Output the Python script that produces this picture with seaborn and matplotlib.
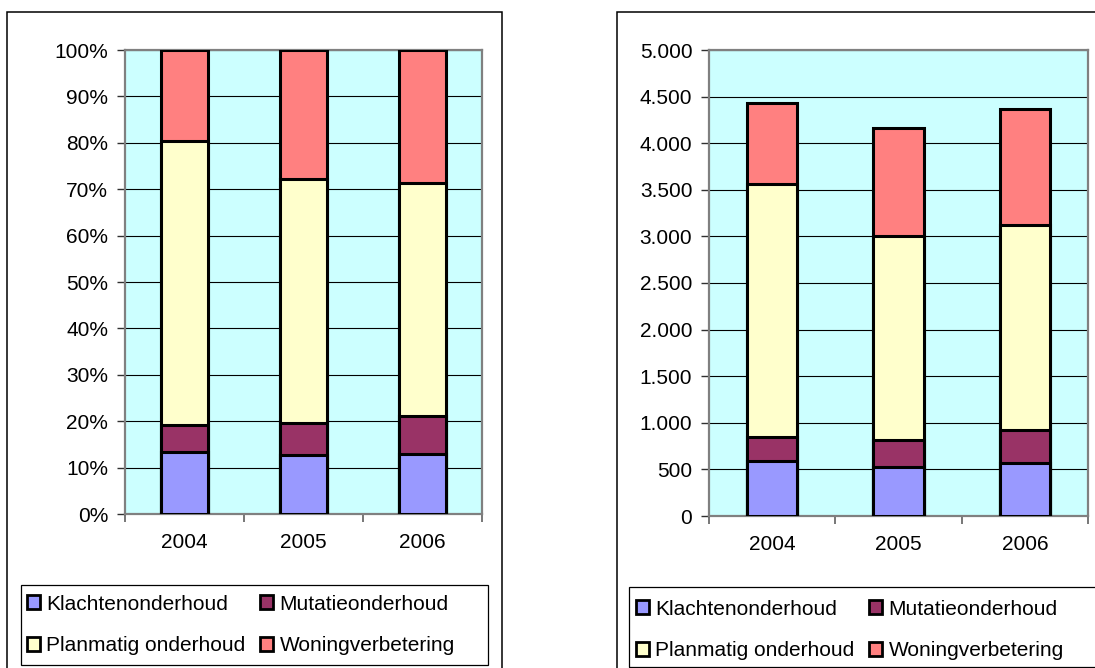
import matplotlib
matplotlib.use("Agg")
import matplotlib.pyplot as plt
from matplotlib.patches import Patch, Rectangle
from matplotlib.ticker import FuncFormatter, FixedLocator, MultipleLocator
import numpy as np
import pandas as pd
import seaborn as sns

plt.rcParams["font.family"] = ["Liberation Sans", "DejaVu Sans"]

# Maintenance expenditure per year, by category
years = ["2004", "2005", "2006"]
klachtenonderhoud = [587, 529, 569]
mutatieonderhoud = [264, 290, 357]
planmatig_onderhoud = [2708, 2185, 2193]
woningverbetering = [869, 1159, 1251]

series_names = ["Klachtenonderhoud", "Mutatieonderhoud",
                "Planmatig onderhoud", "Woningverbetering"]
series_values = [klachtenonderhoud, mutatieonderhoud,
                 planmatig_onderhoud, woningverbetering]
series_colors = ["#9999FF", "#993366", "#FFFFCC", "#FF8080"]

values = np.array(series_values, dtype=float)
cumulative = np.cumsum(values, axis=0)
totals = cumulative[-1]
cumulative_pct = cumulative / totals * 100

W, H = 1095, 668
DPI = 100
FS = 15
fig = plt.figure(figsize=(W / DPI, H / DPI), dpi=DPI)
fig.patch.set_facecolor("white")


def fig_rect(x0, y0, x1, y1):
    """Pixel box (top-left origin) to figure fraction [l, b, w, h]."""
    return [x0 / W, 1 - y1 / H, (x1 - x0) / W, (y1 - y0) / H]


def draw_stacked(ax, cum):
    # Draw tallest stacks first so each lower segment overlays the one above
    for i in range(len(series_names) - 1, -1, -1):
        df = pd.DataFrame({"jaar": years, "waarde": cum[i]})
        sns.barplot(data=df, x="jaar", y="waarde", color=series_colors[i],
                    saturation=1, width=0.4, edgecolor="black",
                    linewidth=2.2, ax=ax, zorder=3)
    ax.set_facecolor("#CCFFFF")
    ax.set_axisbelow(True)
    ax.grid(axis="y", color="black", linewidth=0.8, zorder=0)
    ax.grid(axis="x", visible=False)
    ax.set_xlim(-0.5, len(years) - 0.5)
    ax.set_xlabel("")
    ax.set_ylabel("")
    for s in ax.spines.values():
        s.set_color("#808080")
        s.set_linewidth(1.6)
    ax.xaxis.set_minor_locator(FixedLocator(np.arange(-0.5, len(years), 1.0)))
    ax.tick_params(axis="x", which="major", length=0, pad=14, labelsize=FS)
    ax.tick_params(axis="x", which="minor", length=6, width=1.2,
                   color="#606060", direction="out")
    ax.tick_params(axis="y", which="major", length=6, width=1.0,
                   color="#303030", direction="out", pad=6, labelsize=FS)


def panel_frame(x0, y0, x1, y1):
    fig.patches.append(Rectangle((x0 / W, 1 - y1 / H), (x1 - x0) / W,
                                 (y1 - y0) / H, transform=fig.transFigure,
                                 fill=False, edgecolor="black",
                                 linewidth=1.1, zorder=0))


def legend_box(x0, y0, x1, y1):
    fig.patches.append(Rectangle((x0 / W, 1 - y1 / H), (x1 - x0) / W,
                                 (y1 - y0) / H, transform=fig.transFigure,
                                 fill=False, edgecolor="black",
                                 linewidth=0.9, zorder=0))


handles = [Patch(facecolor=c, edgecolor="black", linewidth=2.0, label=n)
           for n, c in zip(series_names, series_colors)]


def add_legend(x, yc):
    # Row-wise order: two entries per row
    order = [0, 2, 1, 3]
    fig.legend([handles[i] for i in order], [series_names[i] for i in order],
               ncol=2, loc="center left",
               bbox_to_anchor=(x / W, 1 - yc / H), frameon=False,
               fontsize=FS, borderpad=0, borderaxespad=0,
               handlelength=0.62, handleheight=0.62, handletextpad=0.3,
               columnspacing=0.72, labelspacing=1.1)


# Panel outlines
panel_frame(7, 12, 502, 700)
panel_frame(617, 12, 1120, 700)

# Left: 100% stacked
ax1 = fig.add_axes(fig_rect(125, 50, 482, 514))
draw_stacked(ax1, cumulative_pct)
ax1.set_ylim(0, 100)
ax1.yaxis.set_major_locator(MultipleLocator(10))
ax1.yaxis.set_major_formatter(FuncFormatter(lambda v, p: f"{int(round(v))}%"))

# Right: absolute stacked
ax2 = fig.add_axes(fig_rect(709, 50, 1088, 516))
draw_stacked(ax2, cumulative)
ax2.set_ylim(0, 5000)
ax2.yaxis.set_major_locator(MultipleLocator(500))
ax2.yaxis.set_major_formatter(
    FuncFormatter(lambda v, p: f"{int(round(v)):,}".replace(",", ".")))

# Legends
legend_box(21, 585, 488, 665)
legend_box(629, 587, 1120, 667)
add_legend(27, 625)
add_legend(636, 630)

fig.savefig("out.png", dpi=DPI, facecolor="white")
